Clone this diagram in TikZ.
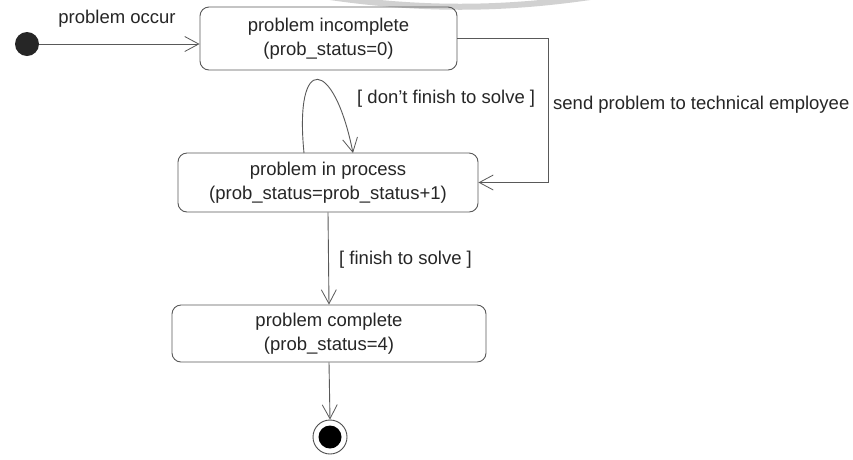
\documentclass[tikz,border=0pt]{standalone}
\usepackage{fontspec}
\setmainfont{Liberation Sans}
\usetikzlibrary{arrows.meta}

\tikzset{
  line/.style={draw=black!65, line width=0.9pt},
  flow/.style={line, -{Straight Barb[length=14pt,width=15pt,line width=0.8pt]}},
  state/.style={draw=black!65, line width=0.9pt, rounded corners=9pt,
    align=center, inner sep=0pt, text=black!85,
    font=\fontsize{18.5}{24.5}\selectfont},
  lbl/.style={text=black!85, inner sep=0pt, font=\fontsize{18.5}{22}\selectfont},
}

\begin{document}
\begin{tikzpicture}[x=1pt, y=-1pt]
  % canvas
  \fill[white] (0,0) rectangle (853,459);
  \useasboundingbox (0,0) rectangle (853,459);

  % faint stamp arc along the top edge
  \begin{scope}
    \clip (0,0) rectangle (853,459);
    \draw[black!18, line width=6pt] (330,-3) .. controls (420,10) and (500,10) .. (590,-3);
  \end{scope}

  % states
  \node[state, minimum width=257pt, minimum height=63pt] (inc) at (328.5,38.5)
    {problem incomplete\\(prob\_status=0)};
  \node[state, minimum width=300pt, minimum height=59pt] (proc) at (328,182.5)
    {problem in process\\(prob\_status=prob\_status+1)};
  \node[state, minimum width=314pt, minimum height=57pt] (comp) at (329,333.5)
    {problem complete\\(prob\_status=4)};

  % pseudo-states
  \node[circle, fill=black!85, minimum size=24pt, inner sep=0pt] (init) at (27,44) {};
  \node[circle, draw=black!70, line width=0.9pt, minimum size=34pt, inner sep=0pt] (final) at (330,437) {};
  \node[circle, fill=black, minimum size=23pt, inner sep=0pt] (finalcore) at (final.center) {};

  % helper points
  \coordinate (corner) at (548,38.5);
  \coordinate (loopA) at (304,153);
  \coordinate (loopB) at (353,153);

  % transitions
  \draw[flow] (init.east) -- (init.east -| inc.west);
  \draw[flow] (inc.east) -- (corner) |- (proc.east);
  \draw[flow] (loopA) .. controls (294,52) and (334,58) .. (loopB);
  \draw[flow] (proc.south) -- (comp.north);
  \draw[flow] (comp.south) -- (final.north);

  % labels
  \node[lbl] (lOccur) at (117,19) {problem occur};
  \node[lbl, anchor=west] (lLoop) at (357,99) {[ don't finish to solve ]};
  \node[lbl, anchor=west] (lSend) at (553,105) {send problem to technical employee};
  \node[lbl, anchor=west] (lDone) at (339,260) {[ finish to solve ]};
\end{tikzpicture}
\end{document}
